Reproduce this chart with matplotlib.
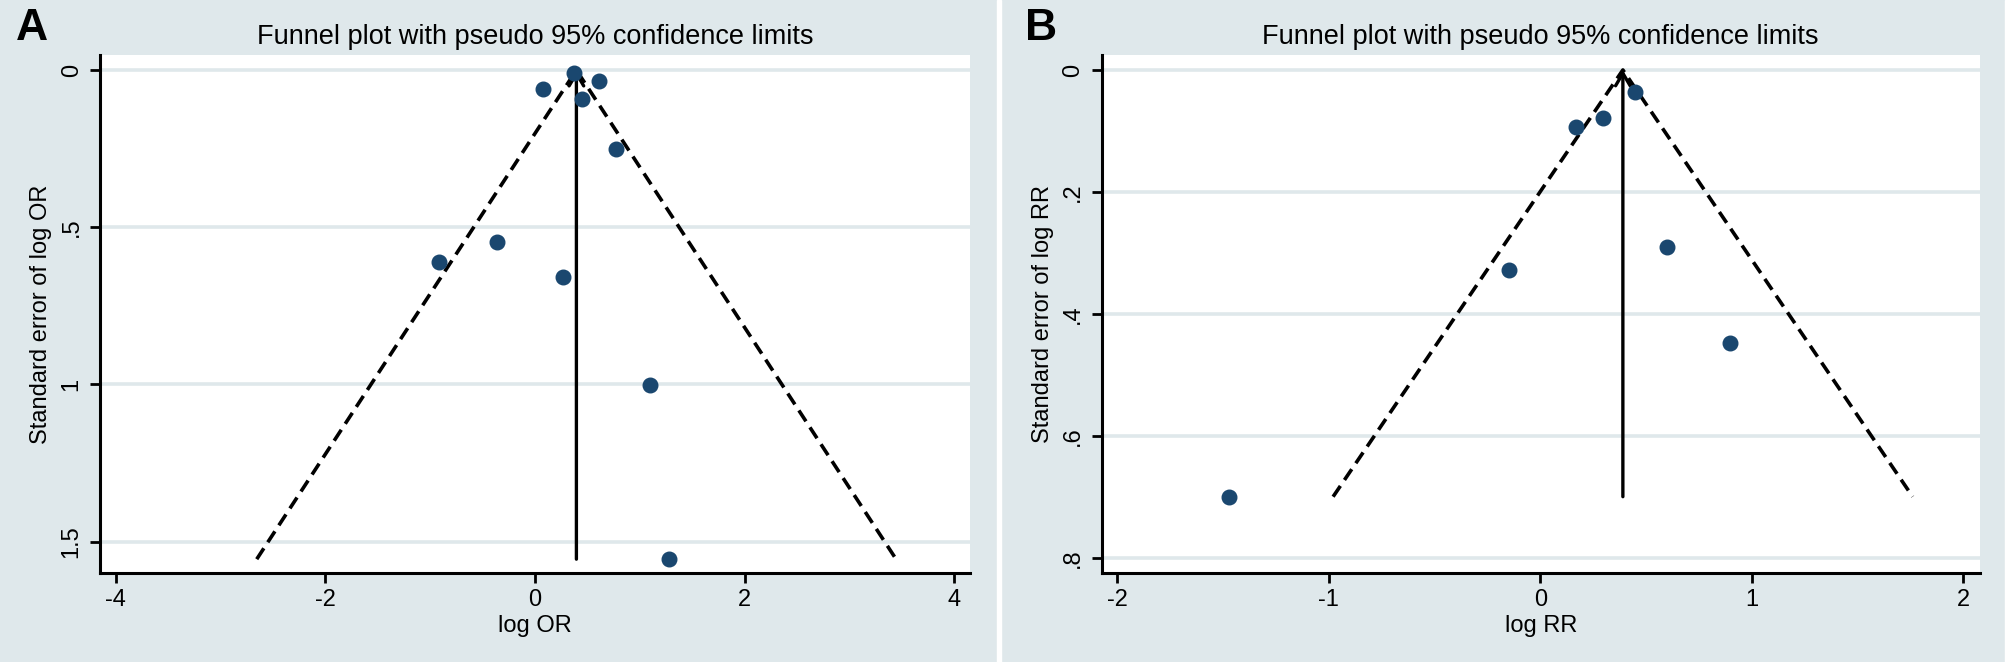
import numpy as np
import matplotlib.pyplot as plt
from matplotlib.patches import Rectangle

plt.rcParams["font.family"] = ["Liberation Sans", "DejaVu Sans"]

# --- Data ---
# Panel A: log OR and its standard error
log_or = [0.373, 0.609, 0.074, 0.452, 0.774, -0.360, -0.916, 0.263, 1.099, 1.276]
se_log_or = [0.0105, 0.034, 0.060, 0.093, 0.251, 0.548, 0.612, 0.659, 1.001, 1.556]
pooled_or = 0.395

# Panel B: log RR and its standard error
log_rr = [0.446, 0.298, 0.169, 0.600, -0.148, 0.897, -1.473]
se_log_rr = [0.0355, 0.079, 0.094, 0.290, 0.327, 0.448, 0.699]
pooled_rr = 0.390

xticks_a = [-4, -2, 0, 2, 4]
yticks_a = [0, 0.5, 1, 1.5]
ylabels_a = ["0", ".5", "1", "1.5"]
xticks_b = [-2, -1, 0, 1, 2]
yticks_b = [0, 0.2, 0.4, 0.6, 0.8]
ylabels_b = ["0", ".2", ".4", ".6", ".8"]

BG = "#dfe8eb"
DOT = "#1a476f"
W, H = 2008, 662


def funnel(ax, x, se, pooled, xticks, yticks, ylabels, xlim, ylim, xlab, ylab, ylab_x):
    se_max = max(se)
    # pseudo 95% limits
    ax.plot([pooled - 1.96 * se_max, pooled, pooled + 1.96 * se_max],
            [se_max, 0, se_max], color="black", lw=2.6,
            linestyle=(0, (3.6, 2.0)), zorder=2)
    ax.annotate("", xy=(pooled, 0), xytext=(pooled, se_max),
                arrowprops=dict(arrowstyle="->,head_length=0.6,head_width=0.35",
                                lw=2.4, color="black", shrinkA=0, shrinkB=0,
                                mutation_scale=15), zorder=3)
    ax.scatter(x, se, s=110, color=DOT, edgecolor=DOT, zorder=4)

    ax.set_xlim(*xlim)
    ax.set_ylim(*ylim)
    ax.set_xticks(xticks)
    ax.set_xticklabels([str(t) for t in xticks])
    ax.set_yticks(yticks)
    ax.set_yticklabels(ylabels, rotation=90, va="center")
    ax.tick_params(axis="both", labelsize=17, length=7.5, width=2, color="black")
    ax.tick_params(axis="y", pad=5)
    ax.tick_params(axis="x", pad=4)
    ax.grid(axis="y", color=BG, lw=2.6)
    ax.set_axisbelow(True)
    for side in ["top", "right"]:
        ax.spines[side].set_visible(False)
    for side in ["left", "bottom"]:
        ax.spines[side].set_linewidth(2.2)
    ax.set_xlabel(xlab, fontsize=17, labelpad=3)
    ax.set_ylabel(ylab, fontsize=17)
    ax.yaxis.set_label_coords(ylab_x, 0.5)
    ax.set_title("Funnel plot with pseudo 95% confidence limits", fontsize=19.5, pad=8)


fig = plt.figure(figsize=(W / 100, H / 100), dpi=100, facecolor=BG)

# white strips between / after the two panels
fig.add_artist(Rectangle((997 / W, 0), 4 / W, 1, transform=fig.transFigure,
                         color="white", zorder=0))
fig.add_artist(Rectangle((2005.5 / W, 0), 3 / W, 1, transform=fig.transFigure,
                         color="white", zorder=0))

bottom = 1 - 573 / H
height = 518 / H
ax_a = fig.add_axes([100 / W, bottom, 870 / W, height])
ax_b = fig.add_axes([1101.7 / W, bottom, 878 / W, height])

funnel(ax_a, log_or, se_log_or, pooled_or, xticks_a, yticks_a, ylabels_a,
       (-4.15, 4.15), (1.60, -0.048), "log OR", "Standard error of log OR",
       (52 - 100) / 870)
funnel(ax_b, log_rr, se_log_rr, pooled_rr, xticks_b, yticks_b, ylabels_b,
       (-2.074, 2.077), (0.824, -0.0245), "log RR", "Standard error of log RR",
       (1053.5 - 1101.7) / 878)

fig.text(16 / W, 1 - 28 / H, "A", fontsize=32, fontweight="bold", va="center", ha="left")
fig.text(1025 / W, 1 - 28 / H, "B", fontsize=32, fontweight="bold", va="center", ha="left")

fig.savefig("out.png", dpi=100, facecolor=BG)
